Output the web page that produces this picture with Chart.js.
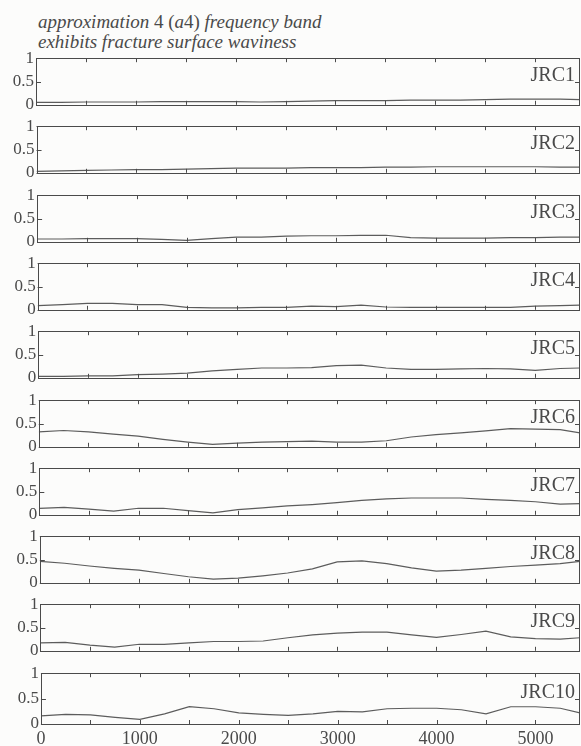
<!DOCTYPE html>
<html>
<head>
<meta charset="utf-8">
<script src="https://cdn.jsdelivr.net/npm/chart.js@4.4.1/dist/chart.umd.min.js"></script>
<style>
  html, body { margin: 0; padding: 0; background: #fcfcfb; }
  body { width: 581px; height: 746px; position: relative; overflow: hidden; }
  #title { position: absolute; left: 38px; top: 12px; font-family: "Liberation Serif", "DejaVu Serif", "Times New Roman", serif; font-style: italic; font-size: 19px; line-height: 20px; color: #4a4a4a; white-space: nowrap; }
  #title .u { font-style: normal; }
  .panel { position: absolute; left: 0; }
</style>
</head>
<body>
<div id="title">approximation <span class="u">4 (</span>a<span class="u">4)</span> frequency band<br>exhibits fracture surface waviness</div>
<script>
// ---- data ----
const xPositions = [0, 250, 500, 750, 1000, 1250, 1500, 1750, 2000, 2250, 2500, 2750, 3000, 3250, 3500, 3750, 4000, 4250, 4500, 4750, 5000, 5250, 5450];
const panelNames = ['JRC1', 'JRC2', 'JRC3', 'JRC4', 'JRC5', 'JRC6', 'JRC7', 'JRC8', 'JRC9', 'JRC10'];
const jrc1  = [0.05, 0.05, 0.06, 0.06, 0.06, 0.07, 0.07, 0.07, 0.07, 0.06, 0.07, 0.08, 0.09, 0.09, 0.09, 0.10, 0.10, 0.10, 0.11, 0.12, 0.12, 0.12, 0.11];
const jrc2  = [0.03, 0.04, 0.05, 0.06, 0.07, 0.07, 0.08, 0.09, 0.10, 0.10, 0.10, 0.11, 0.11, 0.11, 0.12, 0.12, 0.13, 0.13, 0.13, 0.13, 0.13, 0.12, 0.12];
const jrc3  = [0.06, 0.06, 0.07, 0.07, 0.07, 0.05, 0.03, 0.07, 0.10, 0.10, 0.12, 0.13, 0.13, 0.14, 0.14, 0.09, 0.08, 0.08, 0.08, 0.09, 0.09, 0.10, 0.10];
const jrc4  = [0.09, 0.11, 0.14, 0.14, 0.11, 0.11, 0.05, 0.04, 0.04, 0.05, 0.05, 0.08, 0.07, 0.10, 0.06, 0.05, 0.05, 0.05, 0.05, 0.05, 0.08, 0.09, 0.10];
const jrc5  = [0.03, 0.03, 0.04, 0.04, 0.07, 0.08, 0.10, 0.15, 0.18, 0.21, 0.21, 0.22, 0.26, 0.27, 0.21, 0.18, 0.18, 0.19, 0.20, 0.19, 0.16, 0.20, 0.21];
const jrc6  = [0.32, 0.35, 0.32, 0.27, 0.23, 0.16, 0.10, 0.05, 0.08, 0.10, 0.11, 0.12, 0.10, 0.10, 0.13, 0.21, 0.26, 0.30, 0.34, 0.39, 0.38, 0.37, 0.30];
const jrc7  = [0.14, 0.16, 0.12, 0.08, 0.14, 0.14, 0.09, 0.04, 0.11, 0.15, 0.19, 0.22, 0.26, 0.31, 0.34, 0.36, 0.36, 0.36, 0.33, 0.31, 0.28, 0.23, 0.24];
const jrc8  = [0.46, 0.42, 0.36, 0.31, 0.27, 0.20, 0.13, 0.08, 0.10, 0.15, 0.21, 0.30, 0.45, 0.47, 0.41, 0.32, 0.25, 0.27, 0.31, 0.35, 0.38, 0.41, 0.46];
const jrc9  = [0.17, 0.18, 0.12, 0.08, 0.14, 0.14, 0.17, 0.20, 0.20, 0.21, 0.28, 0.34, 0.38, 0.40, 0.40, 0.34, 0.29, 0.35, 0.42, 0.30, 0.26, 0.25, 0.28];
const jrc10 = [0.16, 0.19, 0.18, 0.13, 0.09, 0.20, 0.34, 0.30, 0.22, 0.19, 0.17, 0.20, 0.25, 0.24, 0.30, 0.31, 0.31, 0.28, 0.20, 0.34, 0.34, 0.31, 0.22];
const seriesList = [jrc1, jrc2, jrc3, jrc4, jrc5, jrc6, jrc7, jrc8, jrc9, jrc10];
const yTickValues = [0, 0.5, 1];
const yTickLabels = ['0', '0.5', '1'];
const xTickValues = [0, 500, 1000, 1500, 2000, 2500, 3000, 3500, 4000, 4500, 5000];
const xTickLabels = ['0', '', '1000', '', '2000', '', '3000', '', '4000', '', '5000'];
const xMin = 0, xMax = 5450;

// ---- layout / style ----
const W = 581;
const firstTop = 56, step = 68.3, plotH = 53;
const ink = '#4a4a4a';
const serif = '"Liberation Serif", "DejaVu Serif", "Times New Roman", serif';

const framePlugin = {
  id: 'frame',
  afterDatasetsDraw(chart, args, opts) {
    const ctx = chart.ctx, a = chart.chartArea;
    const xs = chart.scales.x, ys = chart.scales.y;
    ctx.save();
    ctx.strokeStyle = ink;
    ctx.lineWidth = 1;
    ctx.strokeRect(Math.round(a.left) + 0.5, Math.round(a.top) + 0.5, Math.round(a.right - a.left) - 1, Math.round(a.bottom - a.top));
    ctx.beginPath();
    xs.ticks.forEach(t => {
      const px = Math.round(xs.getPixelForValue(t.value)) + 0.5;
      ctx.moveTo(px, a.bottom); ctx.lineTo(px, a.bottom - 4);
      ctx.moveTo(px, a.top); ctx.lineTo(px, a.top + 4);
    });
    ys.ticks.forEach(t => {
      const py = Math.round(ys.getPixelForValue(t.value)) + 0.5;
      ctx.moveTo(a.left, py); ctx.lineTo(a.left + 5, py);
      ctx.moveTo(a.right, py); ctx.lineTo(a.right - 5, py);
    });
    ctx.stroke();
    ctx.fillStyle = ink;
    ctx.font = '20px ' + serif;
    ctx.textAlign = 'right';
    ctx.textBaseline = 'middle';
    ctx.fillText(opts.label, a.right - 5, ys.getPixelForValue(0.62));
    ctx.restore();
  }
};

panelNames.forEach((name, i) => {
  const isLast = i === panelNames.length - 1;
  const top = firstTop + step * i;
  const left = 36 + 0.55 * i;
  const padTop = 10;
  const bottomSpace = isLast ? 24 : 8;
  const h = Math.round(plotH + padTop + bottomSpace);
  const div = document.createElement('div');
  div.className = 'panel';
  div.style.top = Math.round(top - padTop) + 'px';
  div.style.width = W + 'px';
  div.style.height = h + 'px';
  const cv = document.createElement('canvas');
  div.appendChild(cv);
  document.body.appendChild(div);

  new Chart(cv, {
    type: 'line',
    data: {
      datasets: [{
        label: name,
        data: xPositions.map((x, k) => ({ x: x, y: seriesList[i][k] })),
        borderColor: '#5c5c5c',
        borderWidth: 1.2,
        pointRadius: 0,
        tension: 0,
        fill: false
      }]
    },
    options: {
      responsive: true,
      maintainAspectRatio: false,
      animation: false,
      events: [],
      layout: { autoPadding: false, padding: { top: padTop, right: 1, bottom: 0, left: 0 } },
      plugins: { legend: { display: false }, tooltip: { enabled: false }, frame: { label: name } },
      scales: {
        x: {
          type: 'linear', min: xMin, max: xMax,
          afterBuildTicks: s => { s.ticks = xTickValues.map(v => ({ value: v })); },
          afterFit: s => { s.height = bottomSpace; },
          grid: { display: false, drawTicks: false },
          border: { display: false },
          ticks: {
            display: isLast, autoSkip: false, maxRotation: 0, padding: 4,
            color: ink, font: { family: serif, size: 18 },
            callback: (v, idx) => xTickLabels[idx]
          }
        },
        y: {
          min: 0, max: 1,
          afterBuildTicks: s => { s.ticks = yTickValues.map(v => ({ value: v })); },
          afterFit: s => { s.width = left; },
          grid: { display: false, drawTicks: false },
          border: { display: false },
          ticks: {
            padding: 2, color: ink, font: { family: serif, size: 17 },
            callback: (v, idx) => yTickLabels[idx]
          }
        }
      }
    },
    plugins: [framePlugin]
  });
});
</script>
</body>
</html>
